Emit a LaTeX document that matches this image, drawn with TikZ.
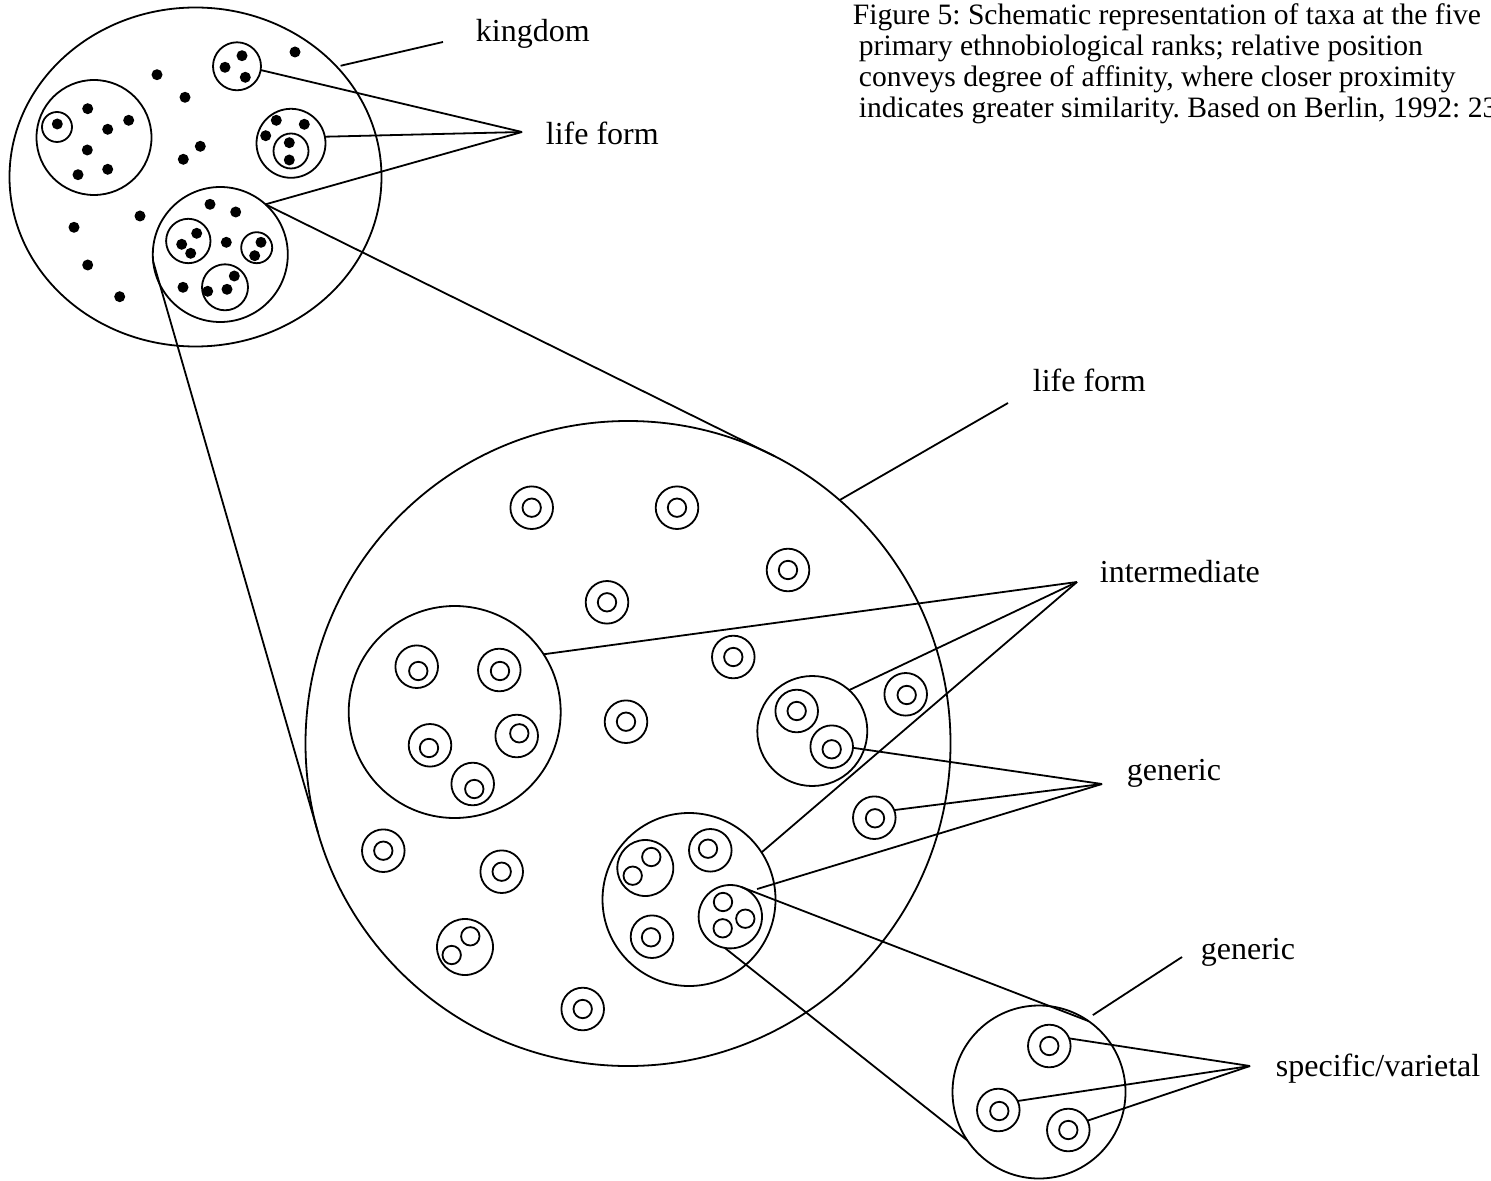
\documentclass[tikz,border=0pt]{standalone}
\usepackage{fontspec}
\setmainfont{Liberation Serif}
\usetikzlibrary{shapes.geometric}
\frenchspacing
\newcommand\DblRing[5]{\node[oc] (#1) at (#2,#3) {}; \node[ic] (#1i) at (#4,#5) {};}
\newcommand\Dt[2]{\fill (#1,#2) circle[radius=2.75pt];}
\begin{document}
\begin{tikzpicture}[x=0.5pt,y=-0.5pt,line width=0.9pt,
  grp/.style={circle,draw,inner sep=0pt,outer sep=0pt,minimum size=#1},
  oc/.style={grp=21.3pt},
  ic/.style={grp=9.2pt},
  lbl/.style={anchor=base west,inner sep=0pt,font=\fontsize{16pt}{19pt}\selectfont},
  captxt/.style={anchor=base west,inner sep=0pt,font=\fontsize{14.8pt}{15.5pt}\selectfont},
  conn/.style={draw}]
\useasboundingbox (0,0) rectangle (1491,1181);

% ---------------- kingdom ----------------
\node[ellipse,draw,inner sep=0pt,outer sep=0pt,minimum width=186pt,minimum height=169.5pt] (K) at (195.5,177) {};
\node[grp=57.5pt] (k1) at (94,137.5) {};
\node[grp=15pt] (k1a) at (57,127) {};
\Dt{57.3}{124}
\Dt{87.7}{108.7}\Dt{128.7}{120.3}\Dt{107.7}{129.3}\Dt{87.3}{150}\Dt{78}{174.7}\Dt{107.7}{169.3}
\node[grp=24pt] (lf1) at (237,66.3) {};
\Dt{242}{55.7}\Dt{225}{67.3}\Dt{245.3}{77.3}
\Dt{295}{52}\Dt{157}{74.7}\Dt{185}{97.3}\Dt{200.3}{146.3}\Dt{183.3}{159.3}
\Dt{140}{216}\Dt{74}{227.3}\Dt{87.7}{265}\Dt{119.7}{296.7}
\node[grp=34.5pt] (lf2) at (291,143.3) {};
\Dt{276.3}{120.3}\Dt{304.3}{124.3}\Dt{265.7}{135.7}
\node[grp=17.5pt] (lf2a) at (291,151) {};
\Dt{289.3}{142.7}\Dt{289.3}{160}
\node[grp=67.5pt] (lf3) at (220.3,254.5) {};
\Dt{210}{204.3}\Dt{235.7}{212}\Dt{226.3}{242.3}\Dt{183}{287.3}
\node[grp=22.2pt] (la) at (188.3,241) {};
\Dt{196.7}{233.3}\Dt{181.7}{244.3}\Dt{190.7}{253.3}
\node[grp=15.5pt] (lb) at (256.7,247.7) {};
\Dt{261}{242.3}\Dt{254.7}{255.7}
\node[grp=23pt] (lc) at (225,287.3) {};
\Dt{234.3}{276}\Dt{227}{289.3}\Dt{207.7}{291.3}

% ---------------- life form (big) ----------------
\node[grp=322.5pt] (L) at (628,743.5) {};
\DblRing{d1}{531.7}{507.7}{531.7}{507.7}
\DblRing{d2}{677}{507.7}{677}{507.7}
\DblRing{d3}{788}{570}{788}{570}
\DblRing{d4}{607}{602.3}{607}{602.3}
\DblRing{d5}{733.3}{657}{733.3}{657}
\DblRing{d6}{626}{721.7}{626}{721.7}
\DblRing{d7}{383.3}{850.7}{383.3}{850.7}
\DblRing{d8}{501.7}{871.7}{501.7}{871.7}
\DblRing{d9}{582.7}{1009}{582.7}{1009}
\DblRing{d10}{905.7}{694.3}{906.7}{695}
\DblRing{gd}{874.3}{817.7}{875}{818.3}

\node[grp=106pt] (G1) at (454.7,712) {};
\DblRing{e1}{416.7}{666.7}{418.3}{671}
\DblRing{e2}{499.3}{670}{500}{671}
\DblRing{e3}{430}{745.3}{429}{748}
\DblRing{e4}{516.7}{736}{519.3}{733.3}
\DblRing{e5}{472.7}{784}{474.3}{789}

\node[grp=28pt] (P1) at (465,947) {};
\node[ic] (P1a) at (470.3,936.3) {};
\node[ic] (P1b) at (451.7,955) {};

\node[grp=55pt] (G2) at (812.3,731) {};
\DblRing{g2a}{796.7}{711}{796.7}{711}
\DblRing{g2b}{831.7}{746.7}{831.7}{749.3}

\node[grp=86.5pt] (G3) at (689,899.5) {};
\node[grp=28pt] (P2) at (645.3,868) {};
\node[ic] (P2a) at (651.3,857) {};
\node[ic] (P2b) at (632.7,875.7) {};
\DblRing{h1}{710.3}{850.3}{708}{848.7}
\DblRing{h2}{652}{936.7}{651}{937.3}
\node[grp=31.7pt] (T3) at (730.3,916.7) {};
\node[ic] (T3a) at (723,902) {};
\node[ic] (T3b) at (745.3,918.7) {};
\node[ic] (T3c) at (722.7,928.3) {};

% ---------------- generic (bottom right) ----------------
\node[grp=86.5pt] (B) at (1039,1092) {};
\DblRing{s1}{1049.3}{1046}{1049.3}{1046}
\DblRing{s2}{998.3}{1110}{999.3}{1111}
\DblRing{s3}{1068.3}{1130}{1068.3}{1130}

% ---------------- labels ----------------
\node[lbl] (tkingdom) at (475,42) {kingdom};
\node[lbl] (tlife1) at (545,145) {life form};
\node[lbl] (tlife2) at (1032,392) {life form};
\node[lbl] (tinter) at (1099,582) {intermediate};
\node[lbl] (tgen1) at (1126,780) {generic};
\node[lbl] (tgen2) at (1200,959) {generic};
\node[lbl] (tspec) at (1275,1076) {specific/varietal};

\node[captxt] (cap1) at (852,25) {Figure 5: Schematic representation of taxa at the five};
\node[captxt] (cap2) at (858,56) {primary ethnobiological ranks; relative position};
\node[captxt] (cap3) at (858,87) {conveys degree of affinity, where closer proximity};
\node[captxt] (cap4) at (858,118) {indicates greater similarity. Based on Berlin, 1992: 23};

% ---------------- connector ends ----------------
\coordinate (kl) at (443,42);
\coordinate (lfc) at (522,132);
\coordinate (lfl) at (1008,403);
\coordinate (ic) at (1077,582);
\coordinate (gc) at (1102,784);
\coordinate (gl) at (1182,957);
\coordinate (sc) at (1250,1066);

% ---------------- connectors ----------------
\draw[conn,shorten <=2pt] (K.38) -- (kl);
\draw[conn] (lf1.-9) -- (lfc);
\draw[conn] (lf2.11) -- (lfc);
\draw[conn] (lf3.48) -- (lfc);
\draw[conn] (lf3.48) -- (L.63);
\draw[conn] (lf3.186) -- (L.196);
\draw[conn] (L.49) -- (lfl);
\draw[conn] (G1.33) -- (ic);
\draw[conn] (G2.48) -- (ic);
\draw[conn] (G3.33) -- (ic);
\draw[conn] (g2b.-3) -- (gc);
\draw[conn] (gd.21) -- (gc);
\draw[conn,shorten <=4pt] (T3.53) -- (gc);
\draw[conn] (T3.70) -- (B.55);
\draw[conn] (T3.-100) -- (B.214);
\draw[conn,shorten <=4pt] (B.57) -- (gl);
\draw[conn] (s1.21) -- (sc);
\draw[conn] (s2.25) -- (sc);
\draw[conn] (s3.26) -- (sc);
\end{tikzpicture}
\end{document}
